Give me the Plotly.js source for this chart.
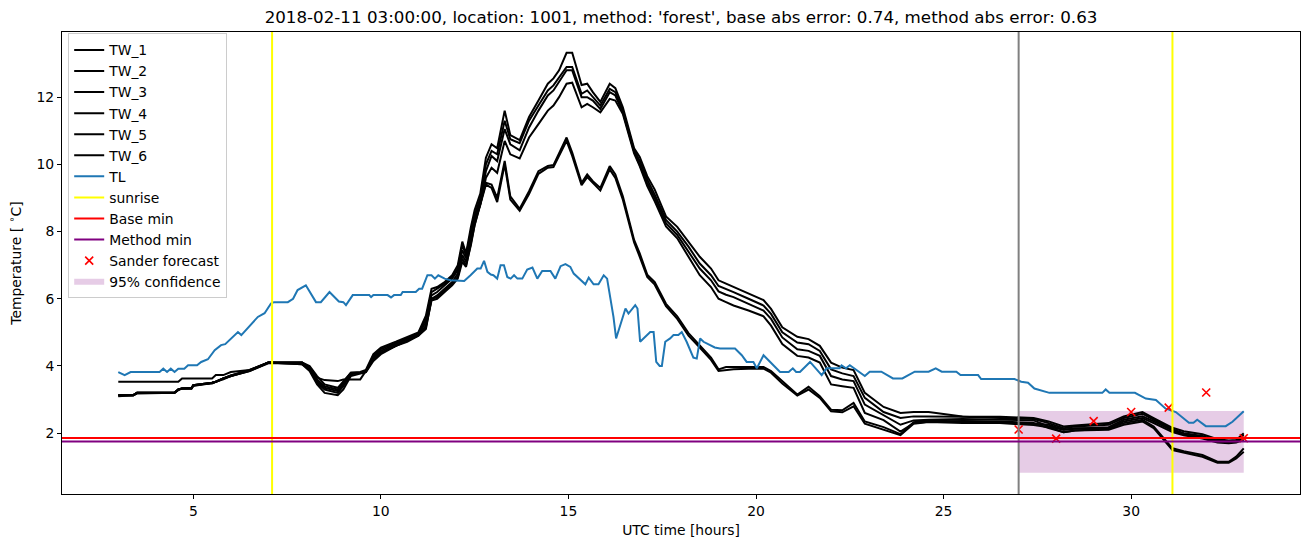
<!DOCTYPE html>
<html><head><meta charset="utf-8">
<script src="https://cdn.plot.ly/plotly-3.0.1.min.js"></script>
<style>html,body{margin:0;padding:0;background:#fff}#chart{width:1310px;height:547px}</style>
</head><body><div id="chart"></div>
<script>
const twTime = [3.0,3.4,3.5,4.5,4.6,4.7,4.95,5.0,5.5,5.6,5.8,6.0,6.5,6.8,7.0,7.9,8.1,8.3,8.5,8.85,9.0,9.2,9.45,9.6,9.8,10.0,10.4,10.7,11.0,11.2,11.35,11.5,11.7,11.9,12.05,12.17,12.27,12.4,12.5,12.65,12.8,
12.95,13.1,13.3,13.45,13.7,13.95,14.2,14.45,14.6,14.75,14.95,15.1,15.35,15.5,15.65,15.85,16.1,16.25,16.45,16.75,16.9,17.1,17.3,17.6,17.9,18.2,18.5,18.8,19.0,19.2,19.4,19.8,20.2,20.4,20.7,21.1,21.4,21.7,22.0,22.3,22.6,22.9,23.4,23.85,24.2,24.6,25.5,26.5,27.4,27.8,28.2,28.5,29.4,29.8,30.3,30.6,31.1,31.4,31.9,32.3,32.6,32.8,33.0];

const TW_1 = [3.13,3.13,3.2,3.2,3.3,3.33,3.33,3.43,3.5,3.53,3.63,3.72,3.88,4.0,4.1,4.1,4.0,3.7,3.45,3.35,3.55,3.8,3.82,3.88,4.35,4.55,4.72,4.85,5.0,5.5,6.3,6.35,6.5,6.7,7.0,7.7,7.35,8.14,8.64,9.13,10.2,
10.6,10.48,11.6,10.87,10.72,11.41,11.9,12.4,12.56,12.8,13.32,13.32,12.36,12.4,12.15,11.86,12.4,12.27,11.7,10.48,10.22,9.65,9.25,8.45,8.14,7.7,7.25,6.9,6.55,6.45,6.35,6.15,5.96,5.7,5.15,4.87,4.8,4.6,4.1,3.95,3.88,3.2,2.78,2.6,2.63,2.63,2.5,2.49,2.45,2.35,2.2,2.23,2.3,2.5,2.63,2.45,2.16,2.06,1.97,1.82,1.78,1.8,2.0];
const TW_2 = [3.13,3.13,3.2,3.2,3.3,3.33,3.33,3.43,3.5,3.53,3.63,3.72,3.87,4.0,4.1,4.1,3.95,3.6,3.4,3.3,3.5,3.8,3.8,3.85,4.3,4.5,4.68,4.82,4.97,5.4,6.2,6.3,6.45,6.65,6.9,7.6,7.3,8.0,8.5,9.0,10.0,
10.4,10.3,11.3,10.75,10.63,11.3,11.75,12.2,12.35,12.6,12.9,12.9,12.1,12.2,12.0,11.75,12.25,12.15,11.6,10.42,10.1,9.55,9.1,8.35,8.0,7.55,7.05,6.7,6.38,6.3,6.2,6.0,5.8,5.55,5.0,4.7,4.65,4.45,3.9,3.78,3.7,3.05,2.63,2.45,2.5,2.5,2.49,2.45,2.42,2.3,2.15,2.2,2.25,2.45,2.58,2.4,2.12,2.0,1.92,1.78,1.75,1.76,1.95];
const TW_3 = [3.1,3.13,3.18,3.2,3.28,3.33,3.35,3.43,3.48,3.53,3.6,3.7,3.85,3.98,4.08,4.08,3.92,3.55,3.35,3.25,3.45,3.78,3.8,3.85,4.25,4.45,4.65,4.8,4.95,5.3,6.1,6.2,6.4,6.6,6.85,7.45,7.2,7.9,8.4,8.9,9.8,
10.25,10.1,11.05,10.6,10.42,11.1,11.6,12.05,12.2,12.45,12.8,12.8,12.0,12.0,11.9,11.65,12.15,12.05,11.55,10.38,10.0,9.45,9.0,8.25,7.9,7.4,6.9,6.55,6.22,6.12,6.05,5.85,5.65,5.4,4.85,4.5,4.45,4.3,3.7,3.6,3.55,2.85,2.53,2.25,2.38,2.4,2.42,2.4,2.38,2.2,2.1,2.13,2.18,2.4,2.5,2.35,2.08,1.97,1.88,1.75,1.73,1.74,1.88];
const TW_4 = [3.13,3.13,3.2,3.2,3.3,3.33,3.33,3.4,3.5,3.53,3.63,3.7,3.87,4.0,4.1,4.05,3.9,3.5,3.3,3.2,3.4,3.75,3.8,3.82,4.2,4.4,4.6,4.75,4.92,5.2,6.0,6.1,6.3,6.5,6.75,7.3,7.1,7.75,8.3,8.8,9.6,
9.9,9.75,10.7,10.3,10.18,10.8,11.2,11.6,11.75,12.0,12.4,12.43,11.7,11.8,11.7,11.55,11.95,11.9,11.5,10.33,9.95,9.35,8.9,8.15,7.8,7.25,6.7,6.35,6.0,5.9,5.8,5.65,5.48,5.2,4.65,4.3,4.25,4.1,3.45,3.4,3.35,2.6,2.39,2.05,2.3,2.34,2.36,2.35,2.3,2.15,2.03,2.08,2.13,2.35,2.45,2.3,2.03,1.94,1.84,1.72,1.7,1.72,1.8];
const TW_5 = [3.53,3.53,3.53,3.53,3.53,3.63,3.63,3.63,3.63,3.73,3.73,3.82,3.88,4.02,4.1,4.1,3.9,3.65,3.58,3.55,3.6,3.6,3.6,3.85,4.2,4.4,4.6,4.75,4.9,5.1,6.0,6.05,6.25,6.45,6.65,7.2,7.0,7.6,8.2,8.8,9.45,
9.4,9.0,10.1,9.05,8.68,9.2,9.8,9.95,9.98,10.35,10.8,10.35,9.45,9.7,9.5,9.3,9.95,9.7,9.05,7.75,7.35,6.72,6.5,5.85,5.48,4.98,4.62,4.25,3.9,3.97,3.97,3.97,3.97,3.85,3.55,3.15,3.38,3.1,2.7,2.68,2.9,2.35,2.18,1.97,2.33,2.38,2.35,2.33,2.28,2.25,2.1,2.15,2.15,2.3,2.4,2.2,1.55,1.46,1.35,1.15,1.15,1.3,1.55];
const TW_6 = [3.13,3.13,3.2,3.2,3.3,3.33,3.33,3.43,3.5,3.53,3.63,3.7,3.85,4.0,4.1,4.05,3.85,3.45,3.2,3.13,3.3,3.7,3.78,3.82,4.15,4.35,4.6,4.72,4.9,5.15,5.95,6.0,6.2,6.4,6.6,7.1,6.95,7.6,8.2,8.8,9.4,
9.3,8.88,10.0,8.95,8.62,9.12,9.72,9.9,9.92,10.25,10.7,10.25,9.38,9.62,9.45,9.22,9.85,9.6,8.95,7.68,7.25,6.65,6.42,5.78,5.4,4.9,4.55,4.18,3.85,3.88,3.9,3.92,3.92,3.8,3.48,3.12,3.3,3.05,2.65,2.62,2.8,2.28,2.1,1.94,2.28,2.33,2.3,2.3,2.24,2.18,2.03,2.08,2.1,2.25,2.35,2.15,1.5,1.42,1.3,1.12,1.12,1.25,1.45];

const tlTime = [3.0,3.17,3.33,4.1,4.2,4.3,4.4,4.5,4.6,4.76,4.86,5.1,5.21,5.39,5.57,5.74,5.85,6.19,6.28,6.72,6.9,7.07,7.15,7.52,7.66,7.78,8.0,8.27,8.4,8.63,8.88,9.0,9.07,9.25,9.69,9.74,9.8,10.18,10.27,10.35,10.53,10.58,10.93,11.02,11.1,11.24,11.35,11.44,11.53,11.7,11.86,12.22,12.39,12.57,12.66,12.75,12.84,12.93,13.0,13.1,13.19,13.28,13.37,13.46,13.55,13.64,13.77,13.9,14.04,14.17,14.3,14.52,14.65,14.79,14.92,15.05,15.14,15.32,15.45,15.54,15.67,15.8,15.94,16.03,16.2,16.27,16.52,16.6,16.78,16.84,16.91,17.18,17.27,17.34,17.43,17.49,17.58,17.71,17.8,17.93,18.02,18.15,18.33,18.42,18.51,18.6,18.78,18.9,19.04,19.44,19.62,19.75,19.93,20.02,20.2,20.64,20.87,20.98,21.07,21.17,21.44,21.75,21.88,22.23,22.28,22.4,22.5,22.9,23.03,23.34,23.65,23.9,24.23,24.6,24.79,24.95,25.34,25.45,25.92,26.0,26.89,27.07,27.25,27.42,27.82,29.23,29.32,29.42,30.1,30.39,30.66,30.92,31.19,31.54,31.66,31.76,31.99,32.52,32.7,33.0];
const tlValues = [3.82,3.73,3.82,3.82,3.92,3.82,3.92,3.82,3.92,3.92,4.02,4.02,4.12,4.2,4.47,4.62,4.65,5.01,4.92,5.46,5.57,5.86,5.9,5.9,6.0,6.26,6.4,5.9,5.9,6.2,5.92,5.9,5.81,6.11,6.11,6.05,6.11,6.11,6.04,6.11,6.11,6.2,6.2,6.3,6.3,6.7,6.7,6.6,6.7,6.6,6.55,6.53,6.7,6.9,6.9,7.13,6.8,6.72,6.7,6.6,7.0,7.0,6.65,6.6,6.7,6.6,6.6,6.87,6.93,6.6,6.83,6.83,6.6,6.97,7.03,6.95,6.75,6.55,6.43,6.63,6.43,6.43,6.7,6.6,5.46,4.82,5.71,5.56,5.81,5.71,4.72,5.01,5.01,4.12,4.0,4.0,4.72,4.82,4.92,4.92,5.01,4.72,4.25,4.22,4.82,4.72,4.62,4.55,4.52,4.52,4.32,4.12,4.12,3.93,4.32,3.82,3.82,3.93,3.82,3.82,4.12,3.73,3.93,3.93,4.02,3.93,4.02,3.7,3.83,3.83,3.63,3.63,3.83,3.83,3.93,3.83,3.83,3.73,3.73,3.61,3.61,3.53,3.5,3.33,3.2,3.2,3.3,3.2,3.2,3.03,2.99,2.73,2.63,2.31,2.31,2.4,2.21,2.21,2.34,2.65];

const sunriseHours = [7.1, 31.1];
const forecastStart = [27];
const baseMin = 1.86;
const methodMin = 1.75;
const sanderHours = [27, 28, 29, 30, 31, 32, 33];
const sanderValues = [2.11, 1.84, 2.36, 2.63, 2.76, 3.21, 1.85];
const confHours = [27, 33];
const confLow = [0.82, 0.82];
const confHigh = [2.66, 2.66];

const twNames = ['TW_1','TW_2','TW_3','TW_4','TW_5','TW_6'];
const twSeries = [TW_1, TW_2, TW_3, TW_4, TW_5, TW_6];

function vlines(xs) {
  const x = [], y = [];
  xs.forEach(v => { x.push(v, v, null); y.push(0, 1, null); });
  return {x, y};
}

const traces = [];
traces.push({
  x: [confHours[0], confHours[1], confHours[1], confHours[0], confHours[0]],
  y: [confLow[0], confLow[1], confHigh[1], confHigh[0], confLow[0]],
  fill: 'toself', fillcolor: 'rgba(128,0,128,0.2)', mode: 'none',
  name: '95% confidence', legendrank: 12, legendgroup: 'g12', hoverinfo: 'skip'
});
twSeries.forEach((s, i) => traces.push({
  x: twTime, y: s, mode: 'lines', name: twNames[i],
  line: {color: '#000000', width: 2}, legendrank: i + 1, legendgroup: 'g' + (i + 1)
}));
traces.push({x: tlTime, y: tlValues, mode: 'lines', name: 'TL',
  line: {color: '#1f77b4', width: 2}, legendrank: 7, legendgroup: 'g7'});
const sr = vlines(sunriseHours);
traces.push({x: sr.x, y: sr.y, yaxis: 'y2', mode: 'lines', name: 'sunrise',
  line: {color: '#ffff00', width: 2}, legendrank: 8, legendgroup: 'g8'});
traces.push({x: [0, 1], y: [baseMin, baseMin], xaxis: 'x2', mode: 'lines', name: 'Base min',
  line: {color: '#ff0000', width: 2}, legendrank: 9, legendgroup: 'g9'});
traces.push({x: [0, 1], y: [methodMin, methodMin], xaxis: 'x2', mode: 'lines', name: 'Method min',
  line: {color: '#800080', width: 2}, legendrank: 10, legendgroup: 'g10'});
const fs = vlines(forecastStart);
traces.push({x: fs.x, y: fs.y, yaxis: 'y2', mode: 'lines', showlegend: false,
  line: {color: '#808080', width: 2}});
traces.push({x: sanderHours, y: sanderValues, mode: 'markers', name: 'Sander forecast',
  marker: {symbol: 'x-thin', size: 8, color: '#ff0000', line: {color: '#ff0000', width: 1.6}}, legendrank: 11, legendgroup: 'g11'});

const font = {family: 'DejaVu Sans, sans-serif', size: 13.9, color: '#000'};
const layout = {
  width: 1310, height: 547,
  margin: {l: 62, r: 10, t: 32, b: 53},
  paper_bgcolor: '#fff', plot_bgcolor: '#fff',
  font: font,
  showlegend: true,
  title: {text: "2018-02-11 03:00:00, location: 1001, method: 'forest', base abs error: 0.74, method abs error: 0.63",
    font: {family: 'DejaVu Sans, sans-serif', size: 16.7, color: '#000'},
    x: 0.5, xref: 'paper', xanchor: 'center', y: 1, yref: 'paper', yanchor: 'bottom', pad: {b: 9}},
  xaxis: {range: [1.5, 34.5], tickvals: [5, 10, 15, 20, 25, 30], ticks: 'outside', ticklen: 4,
    tickcolor: '#000', showline: true, mirror: true, linecolor: '#000', linewidth: 1,
    showgrid: false, zeroline: false, tickfont: font,
    title: {text: 'UTC time [hours]', font: font, standoff: 7}},
  yaxis: {range: [0.19, 13.94], tickvals: [2, 4, 6, 8, 10, 12], ticks: 'outside', ticklen: 4,
    tickcolor: '#000', showline: true, mirror: true, linecolor: '#000', linewidth: 1,
    showgrid: false, zeroline: false, tickfont: font,
    title: {text: 'Temperature [ <sup>∘</sup>C]', font: font, standoff: 11}},
  xaxis2: {overlaying: 'x', range: [0, 1], visible: false},
  yaxis2: {overlaying: 'y', range: [0, 1], visible: false},
  legend: {x: 0.005, y: 0.997, xanchor: 'left', yanchor: 'top', bgcolor: 'rgba(255,255,255,0.8)',
    bordercolor: '#cccccc', borderwidth: 1, font: font, traceorder: 'normal', tracegroupgap: 0}
};
Plotly.newPlot('chart', traces, layout, {displayModeBar: false, staticPlot: true});
</script></body></html>
